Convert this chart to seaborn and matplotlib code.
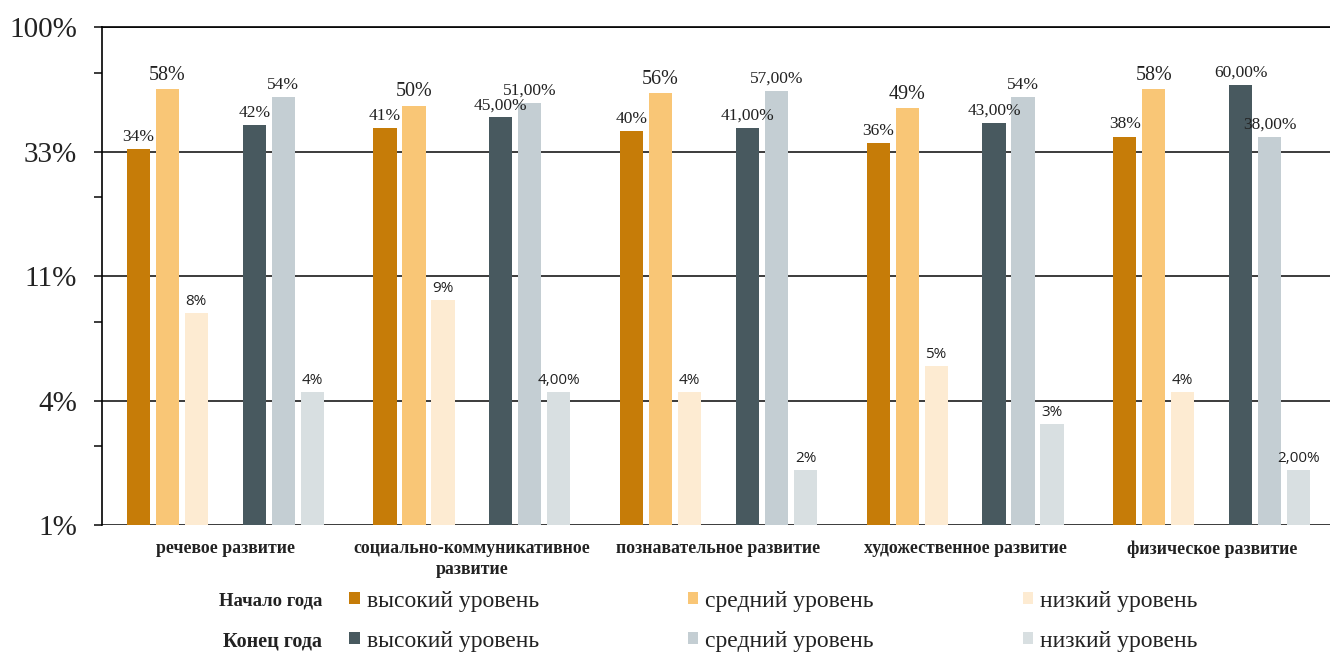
import numpy as np
import pandas as pd
import seaborn as sns
import matplotlib.pyplot as plt
from matplotlib.patches import Patch
from matplotlib.ticker import NullFormatter

categories = ['речевое развитие', 'социально-коммуникативное\nразвитие',
              'познавательное развитие', 'художественное развитие',
              'физическое развитие']
levels = ['высокий уровень', 'средний уровень', 'низкий уровень']

# values in percent
start_high = [34, 41, 40, 36, 38]
start_mid = [58, 50, 56, 49, 58]
start_low = [8, 9, 4, 5, 4]
end_high = [42, 45, 41, 43, 60]
end_mid = [54, 51, 57, 54, 38]
end_low = [4, 4, 2, 3, 2]

# data labels as shown on the chart
start_high_lbl = ['34%', '41%', '40%', '36%', '38%']
start_mid_lbl = ['58%', '50%', '56%', '49%', '58%']
start_low_lbl = ['8%', '9%', '4%', '5%', '4%']
end_high_lbl = ['42%', '45,00%', '41,00%', '43,00%', '60,00%']
end_mid_lbl = ['54%', '51,00%', '57,00%', '54%', '38,00%']
end_low_lbl = ['4%', '4,00%', '2%', '3%', '2,00%']

y_tick_labels = ['100%', '33%', '11%', '4%', '1%']

series_names = ['н_выс', 'н_ср', 'н_низ', 'пусто', 'к_выс', 'к_ср', 'к_низ']
colors = ['#C67C08', '#F9C676', '#FDEBD2', '#FFFFFF', '#48595F', '#C4CED3', '#D8DFE1']
palette = dict(zip(series_names, colors))

series_values = {'н_выс': start_high, 'н_ср': start_mid, 'н_низ': start_low,
                 'к_выс': end_high, 'к_ср': end_mid, 'к_низ': end_low}
rows = []
for s, vals in series_values.items():
    for cat, v in zip(categories, vals):
        rows.append({'category': cat, 'series': s, 'value': v})
df = pd.DataFrame(rows)

label_lists = [start_high_lbl, start_mid_lbl, start_low_lbl,
               end_high_lbl, end_mid_lbl, end_low_lbl]
SERIF = 'Liberation Serif'
SANS = 'Open Sans'
label_fonts = [(SERIF, 12.5), (SERIF, 14.5), (SANS, 11),
               (SERIF, 12.5), (SERIF, 12.5), (SANS, 11)]
TXT = '#222222'

fig = plt.figure(figsize=(13.3, 6.52), dpi=100)
ax = fig.add_axes([102 / 1330, 1 - 525 / 652, 1233 / 1330, (525 - 27) / 652])

sns.barplot(data=df, x='category', y='value', hue='series',
            order=categories, hue_order=series_names, palette=palette,
            width=0.823, gap=0.2, saturation=1, errorbar=None,
            legend=False, ax=ax)

ax.set_yscale('log', base=3)
ax.set_ylim(100 / 81, 100)
major = [100 / 3 ** k for k in range(5)]
ax.set_yticks(major, labels=y_tick_labels)
ax.set_yticks([200 / 3 ** k for k in range(1, 5)], minor=True)
ax.yaxis.set_minor_formatter(NullFormatter())
ax.tick_params(axis='y', which='both', direction='out', length=6, width=1.2,
               color='#1a1a1a', pad=12, labelsize=21, labelcolor=TXT)
for t in ax.get_yticklabels():
    t.set_fontfamily(SERIF)

ax.set_xlim(-0.5, 4.5)
ax.set_xticks(range(len(categories)))
ax.set_xticklabels(categories, fontfamily=SERIF, fontweight='bold',
                   fontsize=12.8, color=TXT, linespacing=1.3)
ax.tick_params(axis='x', length=0, pad=11)
ax.set_xlabel('')
ax.set_ylabel('')

ax.grid(axis='y', which='major', color='#1a1a1a', linewidth=1.2)
ax.grid(axis='x', visible=False)
ax.set_axisbelow(True)
for side in ['right', 'bottom']:
    ax.spines[side].set_visible(False)
ax.spines['left'].set_linewidth(1.2)
ax.spines['top'].set_linewidth(1.2)

containers = [c for c in ax.containers if len(c) > 0]
for cont, lbls, (fam, size) in zip(containers, label_lists, label_fonts):
    bars = sorted(cont, key=lambda b: b.get_x())
    for bar, text in zip(bars, lbls):
        ax.annotate(text, (bar.get_x() + bar.get_width() / 2, bar.get_height()),
                    xytext=(0, 3), textcoords='offset points',
                    ha='center', va='bottom', fontfamily=fam, fontsize=size,
                    color=TXT)

# legend rows
rows_cfg = [('Начало года', colors[:3], 1 - 601 / 652, 13.5),
            ('Конец года', colors[4:], 1 - 641 / 652, 14.5)]
for title, cols, y, tsize in rows_cfg:
    handles = [Patch(facecolor=c, edgecolor='none') for c in cols]
    fig.legend(handles, levels, loc='center left',
               bbox_to_anchor=(349 / 1330, y), ncol=3, frameon=False,
               prop={'family': SERIF, 'size': 17},
               handlelength=0.45, handleheight=0.45, handletextpad=0.3,
               columnspacing=6.3, borderpad=0, borderaxespad=0,
               labelcolor=TXT)
    fig.text(322 / 1330, y, title, ha='right', va='center', fontfamily=SERIF,
             fontweight='bold', fontsize=tsize, color=TXT)

fig.savefig('out.png', dpi=100)
